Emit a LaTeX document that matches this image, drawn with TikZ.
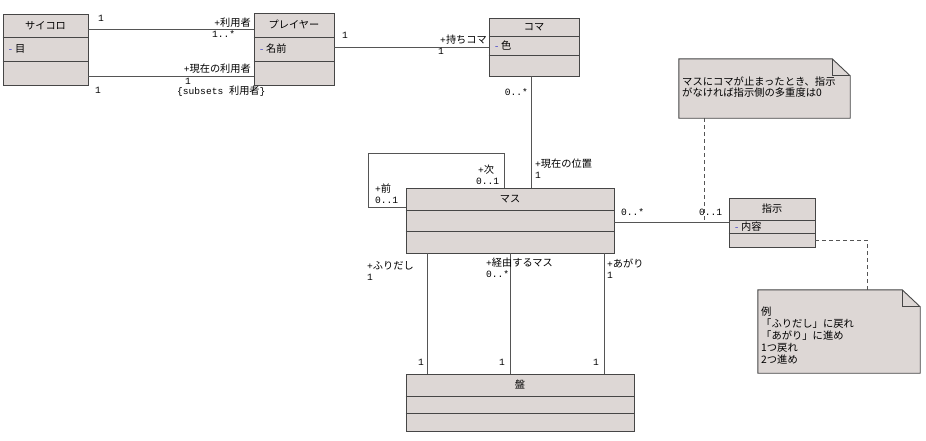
\documentclass[tikz,border=0pt]{standalone}
\usepackage{fontspec}
\newfontfamily\jp{Noto Sans CJK JP}
\newfontfamily\latmono{Liberation Mono}
\newcommand\lt[1]{{\latmono\fontsize{9.6}{10}\selectfont #1}}
\usetikzlibrary{fit,calc}
\definecolor{boxfill}{RGB}{221,215,213}
\definecolor{boxline}{RGB}{70,70,70}
\definecolor{conn}{RGB}{85,85,85}
\definecolor{visib}{RGB}{70,70,200}
\tikzset{
  lbl/.style={inner sep=0pt, font=\jp\fontsize{10.2}{11}\selectfont, text=black},
  fitbox/.style={inner sep=0pt, draw=boxline, fill=boxfill, line width=0.9pt},
  divline/.style={draw=boxline, line width=0.9pt},
  assoc/.style={draw=conn, line width=0.9pt},
  notelink/.style={draw=conn, line width=0.9pt, dash pattern=on 4pt off 3pt},
  notebody/.style={draw=boxline, fill=boxfill, line width=0.9pt},
}
% #1 name, #2 x1, #3 y1, #4 x2, #5 y2, #6 d1, #7 d2, #8 title, #9 attribute
\newcommand\umlcls[9]{%
  \node[fitbox, fit={(#2,#3) (#4,#5)}] (#1) {};
  \draw[divline] (#1.west |- 0,#6) -- (#1.east |- 0,#6);
  \draw[divline] (#1.west |- 0,#7) -- (#1.east |- 0,#7);
  \node[lbl] (#1-title) at ($(#1.north)!0.5!(#1.north |- 0,#6)$) {#8};
  \if\relax\detokenize{#9}\relax\else
  \node[lbl, anchor=west] (#1-attr) at ($(#1.west |- 0,#6)!0.5!(#1.west |- 0,#7)+(5,0)$) {{\color{visib}\lt{-}}\,#9};
  \fi
}
% #1 name, #2 x1, #3 y1, #4 x2, #5 y2
\newcommand\umlnote[5]{%
  \node[inner sep=0pt, fit={(#2,#3) (#4,#5)}] (#1) {};
  \draw[notebody] (#1.north west) -- ([xshift=-18pt]#1.north east) -- ([yshift=-17pt]#1.north east) -- (#1.south east) -- (#1.south west) -- cycle;
  \draw[divline] ([xshift=-18pt]#1.north east) -- ([xshift=-18pt,yshift=-17pt]#1.north east) -- ([yshift=-17pt]#1.north east);
}
\begin{document}
\begin{tikzpicture}[x=1pt,y=-1pt]
\useasboundingbox (0,0) rectangle (926,440);
\fill[white] (0,0) rectangle (926,440);

% classes
\umlcls{sai}{3}{14}{88}{85}{37}{61}{サイコロ}{目}
\umlcls{pl}{254}{13}{334}{85}{37}{61}{プレイヤー}{名前}
\umlcls{koma}{489}{18}{579}{76}{36}{55}{コマ}{色}
\umlcls{masu}{406}{188}{614}{253}{210}{231}{マス}{}
\umlcls{shiji}{729}{198}{815}{247}{220}{233}{指示}{内容}
\umlcls{ban}{406}{374}{634}{431}{396}{413}{盤}{}

% notes
\umlnote{n1}{679}{59}{850}{118}
\node[lbl, anchor=north west, align=left, font=\jp\fontsize{10.3}{10.6}\selectfont] (n1-text) at (682,77) {マスにコマが止まったとき、指示\\がなければ指示側の多重度は0};
\umlnote{n2}{758}{290}{920}{373}
\node[lbl, anchor=north west, align=left, font=\jp\fontsize{10.3}{11.8}\selectfont] (n2-text) at (761,307) {例\\「ふりだし」に戻れ\\「あがり」に進め\\1つ戻れ\\2つ進め};

% associations
\draw[assoc] (sai.east |- 0,29) -- (pl.west |- 0,29);
\draw[assoc] (sai.east |- 0,76) -- (pl.west |- 0,76);
\draw[assoc] (pl.east |- 0,47) -- (koma.west |- 0,47);
\draw[assoc] (koma.south -| 531,0) -- (masu.north -| 531,0);
\coordinate (loopA) at (368,153);
\draw[assoc] (masu.west |- 0,207) -| (loopA) -| (masu.north -| 504,0);
\draw[assoc] (masu.east |- 0,222) -- (shiji.west |- 0,222);
\draw[assoc] (masu.south -| 427,0) -- (ban.north -| 427,0);
\draw[assoc] (masu.south -| 510,0) -- (ban.north -| 510,0);
\draw[assoc] (masu.south -| 604,0) -- (ban.north -| 604,0);

% note links
\coordinate (n1end) at (704,222);
\draw[notelink] (n1.south -| n1end) -- (n1end);
\draw[notelink] (shiji.east |- 0,240) -| (n2.north -| 867,0);

% labels
\node[lbl, anchor=west] (l1) at (98,18) {\lt{1}};
\node[lbl, anchor=east] (l2) at (251,23) {\lt{+}利用者};
\node[lbl, anchor=west] (l3) at (212,34) {\lt{1..*}};
\node[lbl, anchor=east] (l4) at (251,69) {\lt{+}現在の利用者};
\node[lbl, anchor=west] (l5) at (185,81) {\lt{1}};
\node[lbl, anchor=west] (l6) at (177,91) {\lt{\{subsets }利用者\lt{\}}};
\node[lbl, anchor=west] (l7) at (95,90) {\lt{1}};
\node[lbl, anchor=west] (l8) at (342,35) {\lt{1}};
\node[lbl, anchor=east] (l9) at (487,40) {\lt{+}持ちコマ};
\node[lbl, anchor=west] (l10) at (438,51) {\lt{1}};
\node[lbl, anchor=east] (l11) at (528,92) {\lt{0..*}};
\node[lbl, anchor=west] (l12) at (535,164) {\lt{+}現在の位置};
\node[lbl, anchor=west] (l13) at (535,175) {\lt{1}};
\node[lbl, anchor=west] (l14) at (478,170) {\lt{+}次};
\node[lbl, anchor=west] (l15) at (476,181) {\lt{0..1}};
\node[lbl, anchor=west] (l16) at (375,189) {\lt{+}前};
\node[lbl, anchor=west] (l17) at (375,200) {\lt{0..1}};
\node[lbl, anchor=west] (l18) at (621,212) {\lt{0..*}};
\node[lbl, anchor=west] (l19) at (699,212) {\lt{0..1}};
\node[lbl, anchor=west] (l20) at (367,266) {\lt{+}ふりだし};
\node[lbl, anchor=west] (l21) at (367,277) {\lt{1}};
\node[lbl, anchor=west] (l22) at (486,263) {\lt{+}経由するマス};
\node[lbl, anchor=west] (l23) at (486,274) {\lt{0..*}};
\node[lbl, anchor=west] (l24) at (607,263) {\lt{+}あがり};
\node[lbl, anchor=west] (l25) at (607,275) {\lt{1}};
\node[lbl, anchor=west] (l26) at (418,362) {\lt{1}};
\node[lbl, anchor=west] (l27) at (499,362) {\lt{1}};
\node[lbl, anchor=west] (l28) at (593,362) {\lt{1}};
\end{tikzpicture}
\end{document}
